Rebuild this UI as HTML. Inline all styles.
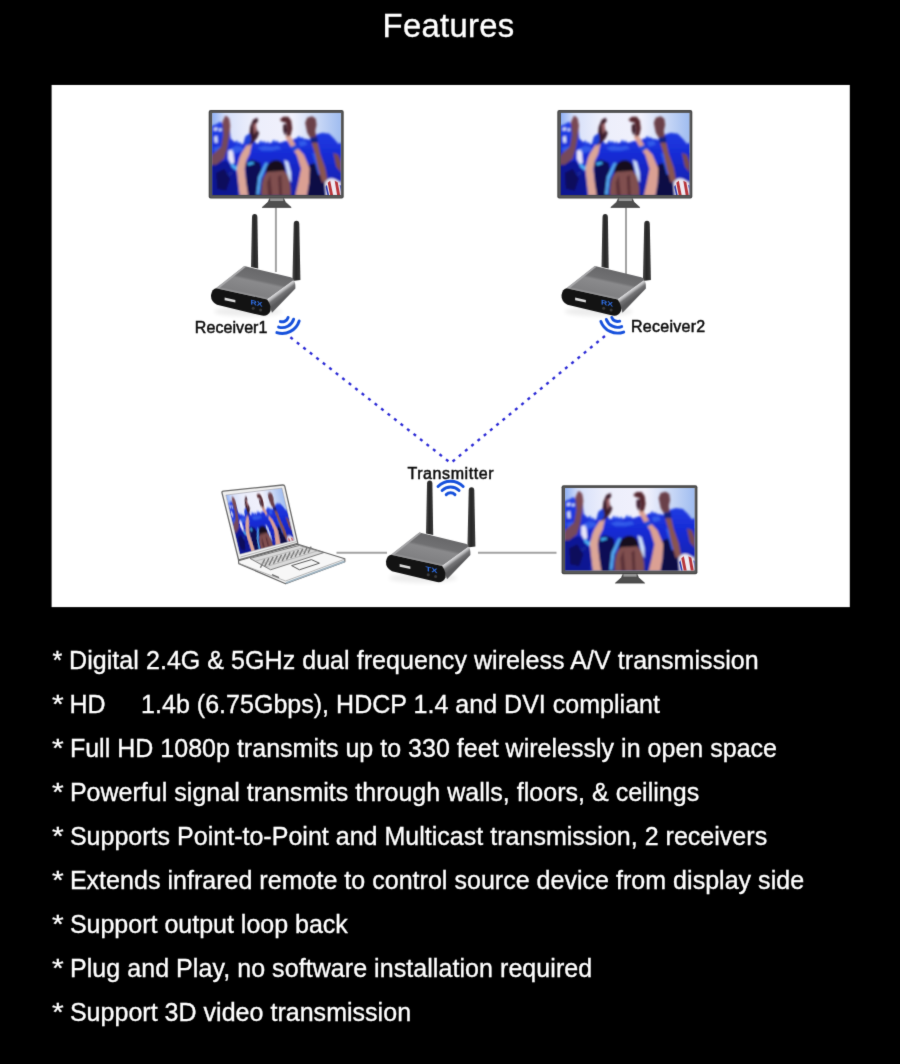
<!DOCTYPE html>
<html lang="en">
<head>
<meta charset="utf-8">
<title>Features</title>
<style>
html,body{margin:0;padding:0;background:#000;}
body{width:900px;height:1064px;position:relative;overflow:hidden;font-family:"Liberation Sans",Arial,sans-serif;color:#fff;}
h1{position:absolute;left:-1.5px;top:0;width:900px;margin:0;text-align:center;font-weight:400;font-size:32.8px;letter-spacing:0.3px;line-height:52.6px;white-space:nowrap;}
.panel{position:absolute;left:42px;top:75px;width:818px;height:542px;}
.panel svg{position:absolute;left:0;top:0;display:block;}
.panel text{font-family:"Liberation Sans",Arial,sans-serif;font-size:16px;fill:#0c0c0c;stroke:#0a0a0a;stroke-width:0.5px;}
.panel text.led{font-size:6.6px;font-weight:700;fill:#2f6fe6;stroke:none;}
ul{position:absolute;left:0;top:638px;width:900px;height:396px;margin:0;padding:0;list-style:none;}
li{position:relative;height:44px;line-height:44px;font-size:25px;white-space:pre;margin:0;padding:0 0 0 52.1px;}
li .a{display:inline-block;width:10.85px;line-height:0;font-size:30px;vertical-align:baseline;transform:translateY(1.7px) scaleY(0.84);transform-origin:0 100%;}
li.l1 .a{width:9.95px;font-size:25px;transform:translateX(0.4px);}
li.l1 .t{margin-left:0.1px;}
.gap{display:inline-block;width:28.45px;}
li.l2 .t{margin-left:-0.4px;letter-spacing:0.025px;}
li.l1 .t{letter-spacing:0.054px;}
li.l3 .t{letter-spacing:0.019px;}
li.l4 .t{letter-spacing:0.021px;}
li.l5 .t{letter-spacing:0.018px;}
li.l6 .t{letter-spacing:0.029px;}
li.l8 .t{letter-spacing:0.064px;}
li.l9 .t{letter-spacing:0.025px;}
h1,li{-webkit-text-stroke:0.35px #fff;}
h1,ul,.panel{filter:url(#soft);}
.fx{position:absolute;left:0;top:0;width:0;height:0;overflow:hidden;}
</style>
</head>
<body>
<svg class="fx" width="0" height="0" aria-hidden="true"><defs><filter id="soft" x="-1%" y="-1%" width="102%" height="102%" color-interpolation-filters="sRGB"><feConvolveMatrix order="3" kernelMatrix="0.0113 0.0838 0.0113 0.0838 0.6193 0.0838 0.0113 0.0838 0.0113" divisor="1" edgeMode="none" preserveAlpha="false"/></filter></defs></svg>
<h1 id="title">Features</h1>
<div class="panel">
<svg width="818" height="542" viewBox="42 75 818 542">
<rect x="51.6" y="84.95" width="798.2" height="522.15" fill="#fff"/>
<defs>
<filter id="b1" x="-20%" y="-20%" width="140%" height="140%"><feGaussianBlur stdDeviation="1.1"/></filter>
<filter id="b3" x="-30%" y="-100%" width="160%" height="300%"><feGaussianBlur stdDeviation="2"/></filter>
<filter id="b2" x="-20%" y="-20%" width="140%" height="140%"><feGaussianBlur stdDeviation="0.5"/></filter>
<clipPath id="scr"><rect x="0" y="0" width="128.6" height="82.2"/></clipPath>
<linearGradient id="sky" x1="0" y1="0" x2="1" y2="0">
<stop offset="0" stop-color="#8fb0f4"/><stop offset="0.1" stop-color="#d6e0fa"/><stop offset="0.3" stop-color="#eceefb"/><stop offset="0.62" stop-color="#f1f1fc"/><stop offset="0.82" stop-color="#c9d8f6"/><stop offset="1" stop-color="#9fbcf0"/>
</linearGradient>
<linearGradient id="sea" x1="0" y1="0" x2="0" y2="1">
<stop offset="0" stop-color="#2244e8"/><stop offset="0.4" stop-color="#182cd6"/><stop offset="1" stop-color="#101c9c"/>
</linearGradient>
<linearGradient id="topf" gradientUnits="userSpaceOnUse" x1="267" y1="271.5" x2="261" y2="298.6">
<stop offset="0" stop-color="#68686a"/><stop offset="0.36" stop-color="#707072"/><stop offset="0.46" stop-color="#8a8a8c"/><stop offset="0.9" stop-color="#808082"/><stop offset="1" stop-color="#a0a0a2"/>
</linearGradient>
<linearGradient id="sidef" gradientUnits="userSpaceOnUse" x1="277.6" y1="288.6" x2="284.2" y2="297.6">
<stop offset="0" stop-color="#8c8c8e"/><stop offset="0.2" stop-color="#e4e4e6"/><stop offset="0.42" stop-color="#b4b4b6"/><stop offset="0.62" stop-color="#747476"/><stop offset="1" stop-color="#5a5a5c"/>
</linearGradient>
<linearGradient id="ant" x1="0" y1="0" x2="1" y2="0">
<stop offset="0" stop-color="#4a4a4a"/><stop offset="0.45" stop-color="#262626"/><stop offset="1" stop-color="#3a3a3a"/>
</linearGradient>
<g id="crowd" clip-path="url(#scr)">
<rect x="0" y="0" width="129" height="83" fill="#eceefb"/>
<rect x="0" y="0" width="129" height="40" fill="url(#sky)"/>
<g filter="url(#b1)">
<path d="M-4 14 L3 12 L8 9 L11 12 L17 13 L18.5 26 L22 29 L26 31 L31 31.5 L33 24 L37 21 L41 26 L44 31 L50 30 L56 31 L62 29 L68 30 L74 28 L80 27 L86 25 L92 26 L98 27 L104 22 L110 20 L117 21 L122 26 L126 31 L134 29 L134 90 L-4 90Z" fill="url(#sea)"/>
<path d="M1.5 15.5 L5 14.5 L5.5 17.5 L2 18Z M6.5 16 L9.5 15.5 L9.5 18 L7 18.5Z M2 24 L5 23 L5.5 30 L2.5 30Z" fill="#dfe8fb"/>
<path d="M16 38 L21 36 L22 50 L19 52 L16 46Z" fill="#e9e6fa"/>
<path d="M18 36 L24 33 L30 34 L31 38 L22 41Z M45 35 L52 33 L60 34 L66 33 L69 36 L60 38 L50 38Z M86 29 L93 28 L95 32 L88 34Z M1 35 L8 33 L9 41 L3 43Z" fill="#3a6cf0" opacity="0.7"/>
<path d="M47 29 L49 27.5 L50 30 L52 28 L53.5 30.5 L56 28.5 L57 31 L47 31.5Z M60 28.5 L62 27 L63 29.5 L65 27.5 L66 30 L60 30.5Z M85 24.5 L87 23 L88 25.5 L90 24 L91 26.5 L85 27Z M23 29 L25 27.5 L26 30.5 L28 29 L29 31.5 L23 31.5Z" fill="#2244e8"/>
<path d="M19 50 L24 54 L27 50 L28 53 L24 58 L19 54Z M12 62 L20 58 L21 61 L14 66Z" fill="#4fb2f6"/>
<path d="M2 50 L14 48 L24 60 L26 72 L22 90 L-4 90 L-4 56Z" fill="#0e1590" opacity="0.9"/>
<path d="M4 60 L12 56 L18 66 L14 78 L5 76Z" fill="#0a0e5c"/>
<path d="M33 50 L40 47 L48 50 L50 62 L46 90 L36 90 L34 70Z" fill="#0b0b55"/>
<path d="M35 50 L41 49 L42 51 L36 53Z" fill="#3fb0f5"/>
<path d="M53 50 L56 50 L49 66 L47 82 L44 82 L46 64Z" fill="#55a9f2"/>
<path d="M72 47 L76 49 L79 60 L79 70 L76 66 L74 56Z" fill="#cfe0fb"/>
<path d="M97 52 L104 50 L112 60 L113 90 L94 90 L97 70Z" fill="#0b0b45"/>
<path d="M100 40 L104 41 L109 62 L106 62Z" fill="#2a5ae8"/>
<path d="M0 42 L9 34 L11 22 L10 10 L13 3 L16 5 L18 12 L17 24 L15 36 L12 46 L4 52 L-4 52Z" fill="#74485c"/>
<path d="M11 8 L14 3 L17 6 L18 14 L15 22 L12 18Z" fill="#7a4a52"/>
<path d="M37.5 41 L34 48 L32.5 56 L34 70 L36 83 L27.5 83 L26 70 L24.5 56 L27 46 L29 41 L36 30 L41 24Z" fill="#dca697"/>
<path d="M38 14 L41 7 L45 5 L46 8 L43 12 L45 18 L47 20 L45 25 L41 30 L36 33 L37 24Z" fill="#3a1e2c"/>
<path d="M41 12 L44 10 L44 18 L42 22Z" fill="#a06468"/>
<path d="M32.5 30 L34 23 L38 21 L39 28 L36 33Z" fill="#1c3fd8"/>
<path d="M67.6 7 L71 4 L76 4 L79 8 L80 16 L78 24 L74 25 L75 17 L74 10 L70 9Z" fill="#55262e"/>
<path d="M71 12 L74 11 L75 18 L73 23 L71 18Z" fill="#3a1e2c"/>
<path d="M73 24 L78 23 L82 30 L86 36 L91.7 42 L97.5 56 L96.8 70 L94.6 83 L83 83 L86 70 L88.8 56 L84.5 42 L78 33Z" fill="#dba093"/>
<path d="M79 34 L84 32 L86 36 L81 39Z" fill="#2446d6"/>
<path d="M93 10 L95 5 L100 3.6 L103.5 6 L104.4 12 L103 18 L104 24 L98 25 L95 20Z" fill="#6b4048"/>
<path d="M98 24.5 L105 24 L105.5 30 L99 30.5Z" fill="#16207e"/>
<path d="M99.4 30 L105.5 30 L108 41 L113 55 L115.5 68 L110 70 L106 56 L103 42Z" fill="#8a5450"/>
<path d="M121 40 L126 42 L129 50 L129 60 L124 54Z" fill="#7a4a50"/>
<path d="M53.4 63 Q53 48 64 47.5 Q74 48 73 62Z" fill="#17101c"/>
<path d="M49 83 Q49 62 56 59 L72 58 Q79 64 78.7 83Z" fill="#80504f"/>
<path d="M55 70 L58 62 L60 83 L56 83Z M66 64 L69 62 L70 83 L67 83Z" fill="#5c3238"/>
<path d="M112.6 70 Q116 64 122 66 L129 70 L129 84 L114 84Z" fill="#efeaf2"/>
</g>
<g filter="url(#b2)">
<path d="M115.5 70 L118 68 L121 83 L118 83Z M122.5 68 L125.5 69.5 L128 83 L125 83Z" fill="#b8343a"/>
<path d="M113.4 74 L114.6 72 L117 83 L115.4 83Z M127.4 72 L129 73 L129 80Z" fill="#2a3ab0"/>
</g>
</g>
<g id="tv">
<rect x="0" y="0" width="135" height="88.6" rx="2" fill="#454545"/>
<rect x="1.2" y="1.2" width="132.6" height="86.2" rx="1.2" fill="#5a5a5a"/>
<rect x="3.1" y="2.4" width="129.2" height="83" fill="#3d3d3d"/>
<g transform="translate(3.5,2.7)"><use href="#crowd"/></g>
<path d="M61 88.6 L75 88.6 L76.5 92 L82.5 97.4 L53.5 97.4 L59.5 92Z" fill="#4e4e4e" stroke="#333" stroke-width="0.7" stroke-linejoin="round"/>
<rect x="61.4" y="88.4" width="13.2" height="2.6" fill="#9a9a9a"/>
</g>
<g id="dev">
<ellipse cx="248" cy="311.5" rx="34" ry="5" fill="#000" opacity="0.07" filter="url(#b3)"/>
<path d="M252 217 Q252.1 214 254.7 214 Q257.3 214 257.4 217 L258.2 268.5 L251 267Z" fill="url(#ant)"/>
<path d="M293.7 224 Q293.8 220.8 296.5 220.8 Q299.2 220.8 299.3 224 L300.4 280 L292.4 281Z" fill="url(#ant)"/>
<path d="M244.4 266.1 L290.6 277.2 Q295 278.5 293 281 L267.2 299.6 L216 288.2Z" fill="url(#topf)"/>
<path d="M244.4 266.1 L246.4 266.6 L218.6 288.8 L216 288.2Z" fill="#a8a8aa"/>
<path d="M267 299.5 L293 280.4 Q295.6 280 295.4 288.6 L272 312.8 Q270 306 267 299.5Z" fill="url(#sidef)"/>
<path d="M216 288.2 L267.2 299.5 Q271.5 306 270.5 311 Q268 316.6 262 315.6 L217 304.8 Q210.6 301.5 211 295 Q212 289 216 288.2Z" fill="#131313"/>
<path d="M224.6 297.6 L235.4 300 L235.4 302.6 L224.6 300.2Z" fill="#dcdcdc"/>
<circle cx="253.2" cy="308.2" r="1.5" fill="#3c3c3c"/><circle cx="260.6" cy="310" r="1.5" fill="#3c3c3c"/>
</g>
</defs>
<g stroke="#a2a2a2" stroke-width="2" fill="none"><path d="M275.9 207.5V272M626 207.5V274M336.5 552.8H387M478 552.8H556.5"/></g>
<use href="#tv" x="208.7" y="110"/>
<use href="#tv" x="557.3" y="110"/>
<g transform="translate(561.6,485.3) scale(1.006,1.004)"><use href="#tv"/></g>
<g id="laptop">
<path d="M238.5 560.6 L298 544.2 L344.8 558.8 L344.8 561.8 L285.6 583.8 L238.8 563.6Z" fill="#f7f7f7" stroke="#666" stroke-width="1.2" stroke-linejoin="round"/>
<path d="M238.8 563.4 L285.6 581 L344.8 559.2" fill="none" stroke="#9a9a9a" stroke-width="0.7"/>
<path d="M250 558.4 L299.4 545.4 L323.8 552.6 L270.6 569.8Z" fill="#d9d9d9" stroke="#6e6e6e" stroke-width="0.9" stroke-linejoin="round"/>
<path d="M260.4 567.8L264.7 559.3M264.7 566.4L268.9 558.2M269.0 565.1L273.2 557.0M273.4 563.7L277.4 555.8M277.7 562.3L281.6 554.7M282.1 560.9L285.9 553.5M286.4 559.6L290.1 552.4M290.7 558.2L294.3 551.2M295.1 556.8L298.5 550.0M299.4 555.4L302.8 548.9M303.8 554.1L307.0 547.7M308.1 552.7L311.2 546.6" stroke="#757575" stroke-width="1.4" fill="none"/>
<path d="M255.2 561.2L305.5 547.2M260.3 564.1L311.6 549.0M265.5 566.9L317.7 550.8" stroke="#a2a2a2" stroke-width="0.6" fill="none"/>
<path d="M291.6 565.6 L311.4 559.6 L319.4 563.2 L299.4 569.8Z" fill="#f4f4f4" stroke="#5c5c5c" stroke-width="1" stroke-linejoin="round"/>
<path d="M285.8 583 L344.6 561.4" stroke="#9fb4c2" stroke-width="1.8" fill="none"/>
<path d="M272 574.6 L279 577.6" stroke="#6a6a6a" stroke-width="1.2" fill="none"/>
<path d="M222 492.8 Q221.6 491.4 223.4 491.2 L282.6 485 Q284.4 484.8 284.8 486.4 L297.8 543.4 L238.6 560Z" fill="#efefef" stroke="#6c6c6c" stroke-width="1.3" stroke-linejoin="round"/>
<path d="M240.4 557 L296.4 541.6" stroke="#a6a6a6" stroke-width="0.8" fill="none"/>
<clipPath id="lapclip"><path d="M225.9 495.1 L281.9 488.1 L294.3 540.2 L239.9 554.2Z"/></clipPath>
<g clip-path="url(#lapclip)"><g transform="matrix(0.4355 -0.0544 0.1703 0.719 225.9 495.1)"><use href="#crowd"/></g></g>
<path d="M225.9 495.1 L281.9 488.1 L294.3 540.2 L239.9 554.2Z" fill="none" stroke="#9a9aa6" stroke-width="0.6"/>
</g>
<use href="#dev"/>
<use href="#dev" x="350.5" y="0"/>
<use href="#dev" x="175" y="266.5"/>
<text class="led" transform="translate(250.4,304.2) skewY(12.5)" textLength="12" lengthAdjust="spacingAndGlyphs">RX</text>
<text class="led" transform="translate(600.9,304.2) skewY(12.5)" textLength="12" lengthAdjust="spacingAndGlyphs">RX</text>
<text class="led" transform="translate(425.4,570.7) skewY(12.5)" textLength="12" lengthAdjust="spacingAndGlyphs">TX</text>
<g fill="none" stroke="#2b2ad6" stroke-width="2.4"><path d="M290.4 337.3 L448.5 461.3" stroke-dasharray="3 5.24"/><path d="M452.6 461.5 L605 335.9" stroke-dasharray="3 5.1"/></g>
<g fill="none" stroke="#1650dc" stroke-width="2.9" stroke-linecap="round"><path d="M288.11 317.46A6.2 6.2 0 0 1 280.34 321.51M293.64 319.21A12 12 0 0 1 278.59 327.04M299.18 320.95A17.8 17.8 0 0 1 276.85 332.58"/><path d="M619.72 321.13A6.2 6.2 0 0 1 611.77 317.42M621.70 326.58A12 12 0 0 1 606.32 319.40M623.69 332.03A17.8 17.8 0 0 1 600.87 321.39"/><path d="M446.22 494.62A6.2 6.2 0 0 1 454.98 494.62M442.11 490.51A12 12 0 0 1 459.09 490.51M438.01 486.41A17.8 17.8 0 0 1 463.19 486.41"/></g>
<text x="194.8" y="333.2" textLength="72.6" lengthAdjust="spacing">Receiver1</text>
<text x="631" y="332.2" textLength="74.2" lengthAdjust="spacing">Receiver2</text>
<text x="407.4" y="478.5" textLength="86.2" lengthAdjust="spacing">Transmitter</text>
</svg>
</div>
<ul>
<li class="l1"><span class="a">*</span> <span class="t">Digital 2.4G &amp; 5GHz dual frequency wireless A/V transmission</span></li>
<li class="l2"><span class="a">*</span> <span class="t">HD <span class="gap"></span>1.4b (6.75Gbps), HDCP 1.4 and DVI compliant</span></li>
<li class="l3"><span class="a">*</span> <span class="t">Full HD 1080p transmits up to 330 feet wirelessly in open space</span></li>
<li class="l4"><span class="a">*</span> <span class="t">Powerful signal transmits through walls, floors, &amp; ceilings</span></li>
<li class="l5"><span class="a">*</span> <span class="t">Supports Point-to-Point and Multicast transmission, 2 receivers</span></li>
<li class="l6"><span class="a">*</span> <span class="t">Extends infrared remote to control source device from display side</span></li>
<li class="l7"><span class="a">*</span> <span class="t">Support output loop back</span></li>
<li class="l8"><span class="a">*</span> <span class="t">Plug and Play, no software installation required</span></li>
<li class="l9"><span class="a">*</span> <span class="t">Support 3D video transmission</span></li>
</ul>
</body>
</html>
